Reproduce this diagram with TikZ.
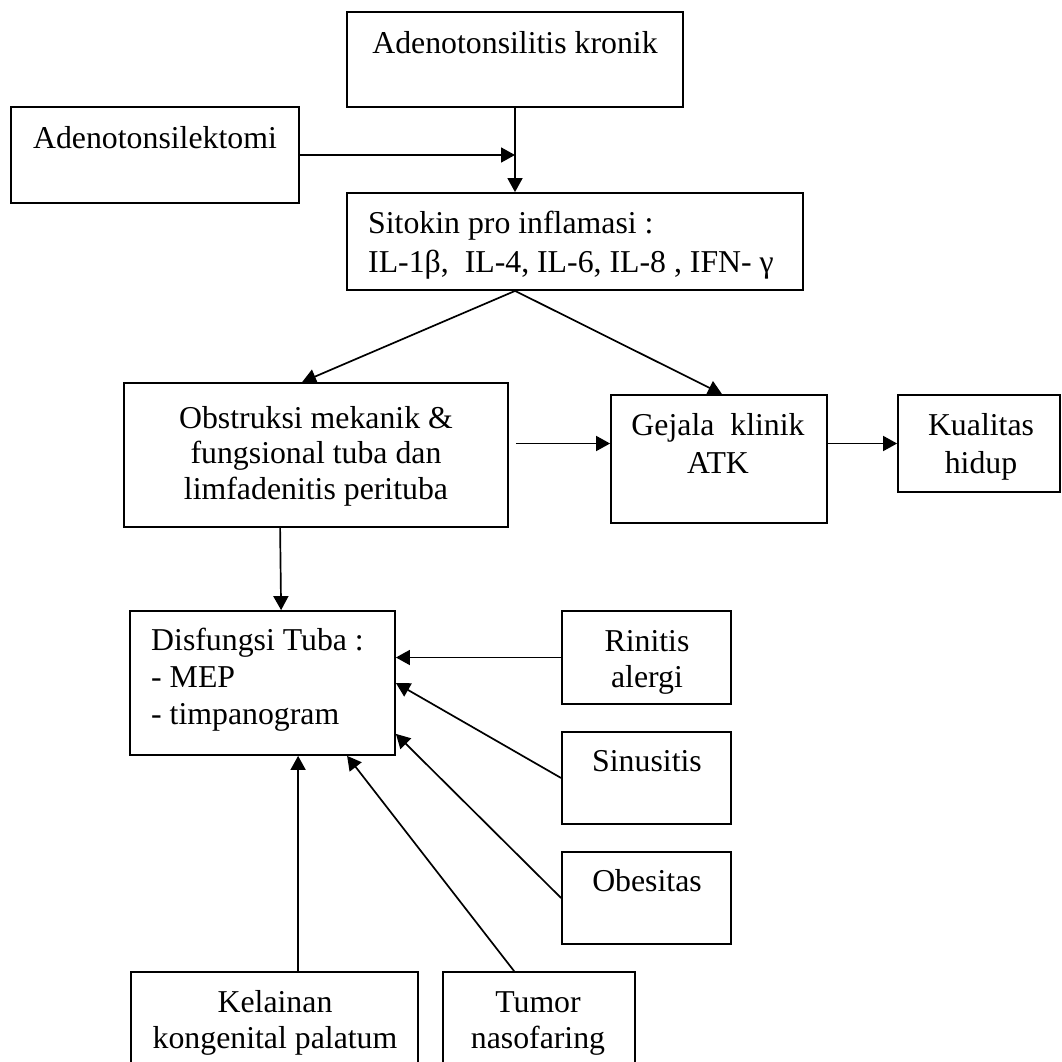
\documentclass[tikz,border=0pt]{standalone}
\usepackage{fontspec}
\setmainfont{Liberation Serif}
\usetikzlibrary{arrows.meta,calc}
\newcommand{\dfont}{\fontsize{31.8}{37}\selectfont}
\begin{document}
\begin{tikzpicture}[x=1pt,y=-1pt,
  box/.style={draw, line width=1.8pt, inner sep=0pt, rectangle},
  txt/.style={font=\dfont, inner sep=0pt, align=center},
  arr/.style={-{Triangle[length=14pt,width=15pt]}, line width=1.7pt}]
\useasboundingbox (0,0) rectangle (1061,1062);
\clip (0,0) rectangle (1061,1062);
\fill[white] (0,0) rectangle (1061,1062);

% boxes
\node[box, minimum width=336pt, minimum height=95pt] (A1) at (515,59.5) {};
\node[box, minimum width=288pt, minimum height=96pt] (A2) at (155,155) {};
\node[box, minimum width=456pt, minimum height=97pt] (S) at (575,241.5) {};
\node[box, minimum width=384pt, minimum height=144pt] (O) at (316,455) {};
\node[box, minimum width=216pt, minimum height=128pt] (G) at (719,459) {};
\node[box, minimum width=162pt, minimum height=97pt] (K) at (979,443.5) {};
\node[box, minimum width=265pt, minimum height=144pt] (D) at (262.5,683) {};
\node[box, minimum width=169pt, minimum height=93pt] (R) at (646.5,657.5) {};
\node[box, minimum width=169pt, minimum height=92pt] (Si) at (646.5,778) {};
\node[box, minimum width=169pt, minimum height=92pt] (Ob) at (646.5,898) {};
\node[box, minimum width=287pt, minimum height=128pt] (Ke) at (274.5,1036) {};
\node[box, minimum width=192pt, minimum height=128pt] (T) at (539,1036) {};

% texts
\node[txt] (tA1) at (515,45.8) {\strut Adenotonsilitis kronik};
\node[txt] (tA2) at (155,140.8) {\strut Adenotonsilektomi};
\node[txt, align=left, anchor=west] (tS) at (368,245.1) {\strut Sitokin pro inflamasi :\\[2pt]\strut IL-1β,\ \ IL-4, IL-6, IL-8 , IFN- γ};
\node[txt] (tO) at (316,456.1) {\strut Obstruksi mekanik \&\\[-1.5pt]\strut fungsional tuba dan\\[-1.5pt]\strut limfadenitis perituba};
\node[txt] (tG) at (718,446.6) {\strut Gejala\ \ klinik\\[1pt]\strut ATK};
\node[txt] (tK) at (981,446.6) {\strut Kualitas\\[1pt]\strut hidup};
\node[txt, align=left, anchor=west] (tD) at (151,680.1) {\strut Disfungsi Tuba :\\\strut - MEP\\\strut - timpanogram};
\node[txt] (tR) at (647,661.6) {\strut Rinitis\\[-1pt]\strut alergi};
\node[txt] (tSi) at (647,763.6) {\strut Sinusitis};
\node[txt] (tOb) at (647,883.6) {\strut Obesitas};
\node[txt] (tKe) at (275,1022.6) {\strut Kelainan\\[-1pt]\strut kongenital palatum};
\node[txt] (tT) at (538,1022.6) {\strut Tumor\\[-1pt]\strut nasofaring};

% connectors
\draw[arr] (A1.south) -- (A1.south |- S.north);
\draw[arr] (A2.east) -- (A1.south |- A2.east);
\coordinate (sp) at ($(S.south west)+(169,0)$);
\draw[arr] (sp) -- ($(O.north west)+(179,0)$);
\draw[arr] (sp) -- ($(G.north)+(3,0)$);
\draw[arr, shorten <=7pt] (O.east |- K.west) -- (G.west |- K.west);
\draw[arr] (G.east |- K.west) -- (K.west);
\draw[arr] ($(O.south west)+(157,0)$) -- ($(D.north west)+(152,0)$);
\draw[arr] (R.west) -- (D.east |- R.west);
\draw[arr] (Si.west) -- (D.east);
\draw[arr] (Ob.west) -- ($(D.south east)+(0,-22)$);
\draw[arr] ($(T.north west)+(72,0)$) -- ($(D.south west)+(218,0)$);
\draw[arr] ($(Ke.north west)+(168,0)$) -- ($(D.south west)+(169,0)$);
\end{tikzpicture}
\end{document}
